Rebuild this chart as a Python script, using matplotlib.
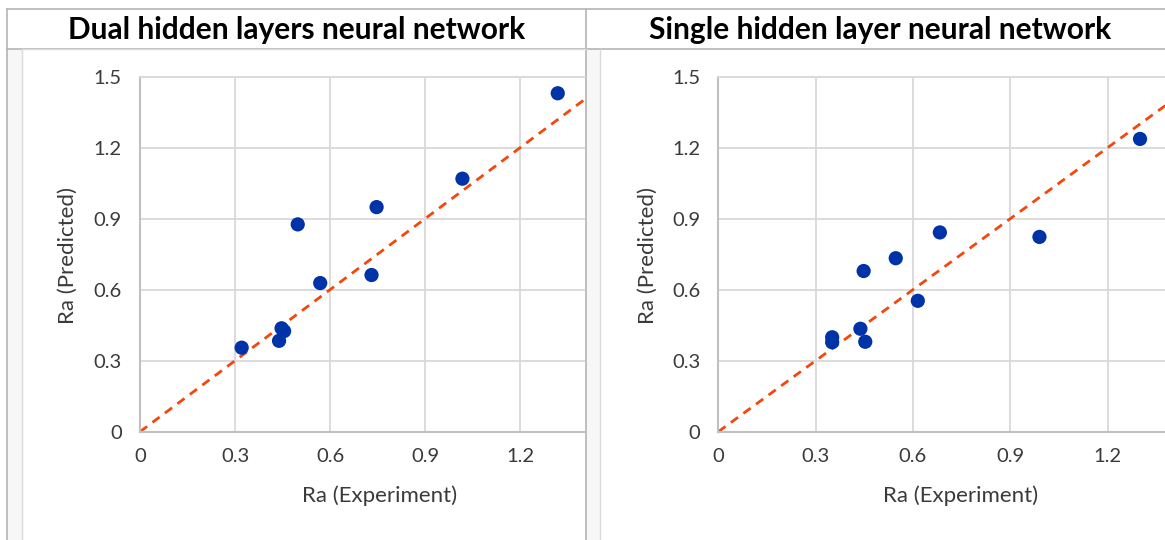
import matplotlib
matplotlib.use("Agg")
import matplotlib.pyplot as plt
from matplotlib.patches import Rectangle

plt.rcParams['font.family'] = ['Lato', 'DejaVu Sans']

# values
dual_exp = [1.319, 1.018, 0.747, 0.498, 0.731, 0.569, 0.447, 0.455, 0.439, 0.321]
dual_pred = [1.430, 1.069, 0.949, 0.876, 0.662, 0.628, 0.437, 0.425, 0.384, 0.355]

single_exp = [1.300, 0.990, 0.683, 0.547, 0.448, 0.615, 0.438, 0.453, 0.351, 0.351]
single_pred = [1.237, 0.823, 0.842, 0.733, 0.679, 0.553, 0.435, 0.380, 0.399, 0.378]

titles = ["Dual hidden layers neural network", "Single hidden layer neural network"]
ticks = [0, 0.3, 0.6, 0.9, 1.2]
yticks = [0, 0.3, 0.6, 0.9, 1.2, 1.5]
tick_labels = ["0", "0.3", "0.6", "0.9", "1.2"]
ytick_labels = ["0", "0.3", "0.6", "0.9", "1.2", "1.5"]

W, H = 1165, 540
fig = plt.figure(figsize=(W / 100, H / 100), dpi=100)

# background axes in pixel coordinates for the table frame
bg = fig.add_axes([0, 0, 1, 1])
bg.set_xlim(0, W)
bg.set_ylim(H, 0)
bg.axis("off")

frame = "#b4b4b4"
light = "#dadada"
bg.add_patch(Rectangle((7, 49), 15, H - 49, color="#f7f7f7", lw=0))
bg.add_patch(Rectangle((586, 49), 14, H - 49, color="#f7f7f7", lw=0))
bg.plot([7, W], [9, 9], color=frame, lw=1.2)
bg.plot([7, W], [49, 49], color=frame, lw=1.2)
bg.plot([7, 7], [9, H], color=frame, lw=1.2)
bg.plot([586, 586], [9, H], color=frame, lw=1.2)
bg.plot([22, 22], [49, H], color=light, lw=1)
bg.plot([600, 600], [49, H], color=light, lw=1)
bg.plot([22, 586], [49, 49], color=light, lw=1)

bg.text(297, 30, titles[0], ha="center", va="center", fontsize=21.5,
        fontweight="bold", color="black")
bg.text(880, 30, titles[1], ha="center", va="center", fontsize=21.5,
        fontweight="bold", color="black")


def px_axes(x0, x1, y0, y1):
    return fig.add_axes([x0 / W, 1 - y1 / H, (x1 - x0) / W, (y1 - y0) / H])


panels = [
    (px_axes(140, 585, 76.7, 431.7), dual_exp, dual_pred, 1.405, (380, 68)),
    (px_axes(718.3, 1165, 76.7, 431.7), single_exp, single_pred, 1.377, (961, 648)),
]

for ax, xs, ys, xmax, (xl_x, yl_x) in panels:
    ax.set_xlim(0, xmax)
    ax.set_ylim(0, 1.5)
    ax.set_xticks(ticks)
    ax.set_xticklabels(tick_labels)
    ax.set_yticks(yticks)
    ax.set_yticklabels(ytick_labels)
    ax.grid(True, color="#d9d9d9", lw=1.3)
    ax.set_axisbelow(True)
    ax.tick_params(length=0, labelsize=14.5, colors="#3a3a3a")
    ax.tick_params(axis="y", pad=13)
    ax.tick_params(axis="x", pad=12)
    ax.spines["right"].set_visible(False)
    ax.spines["top"].set_color("#d9d9d9")
    ax.spines["top"].set_linewidth(1.3)
    for s in ["left", "bottom"]:
        ax.spines[s].set_color("#c0c0c0")
        ax.spines[s].set_linewidth(1.5)

    ax.plot([0, 1.5], [0, 1.5], color="#f5460c", lw=2, dashes=[3.2, 2.4], zorder=2)
    ax.scatter(xs, ys, s=105, color="#0033a8", edgecolors="none", zorder=3,
               clip_on=False)

    bg.text(xl_x, 496, "Ra (Experiment)", ha="center", va="center",
            fontsize=16, color="#3a3a3a")
    bg.text(yl_x, 256, "Ra (Predicted)", ha="center", va="center",
            fontsize=16, color="#3a3a3a", rotation=90)

fig.savefig("out.png", dpi=100)
